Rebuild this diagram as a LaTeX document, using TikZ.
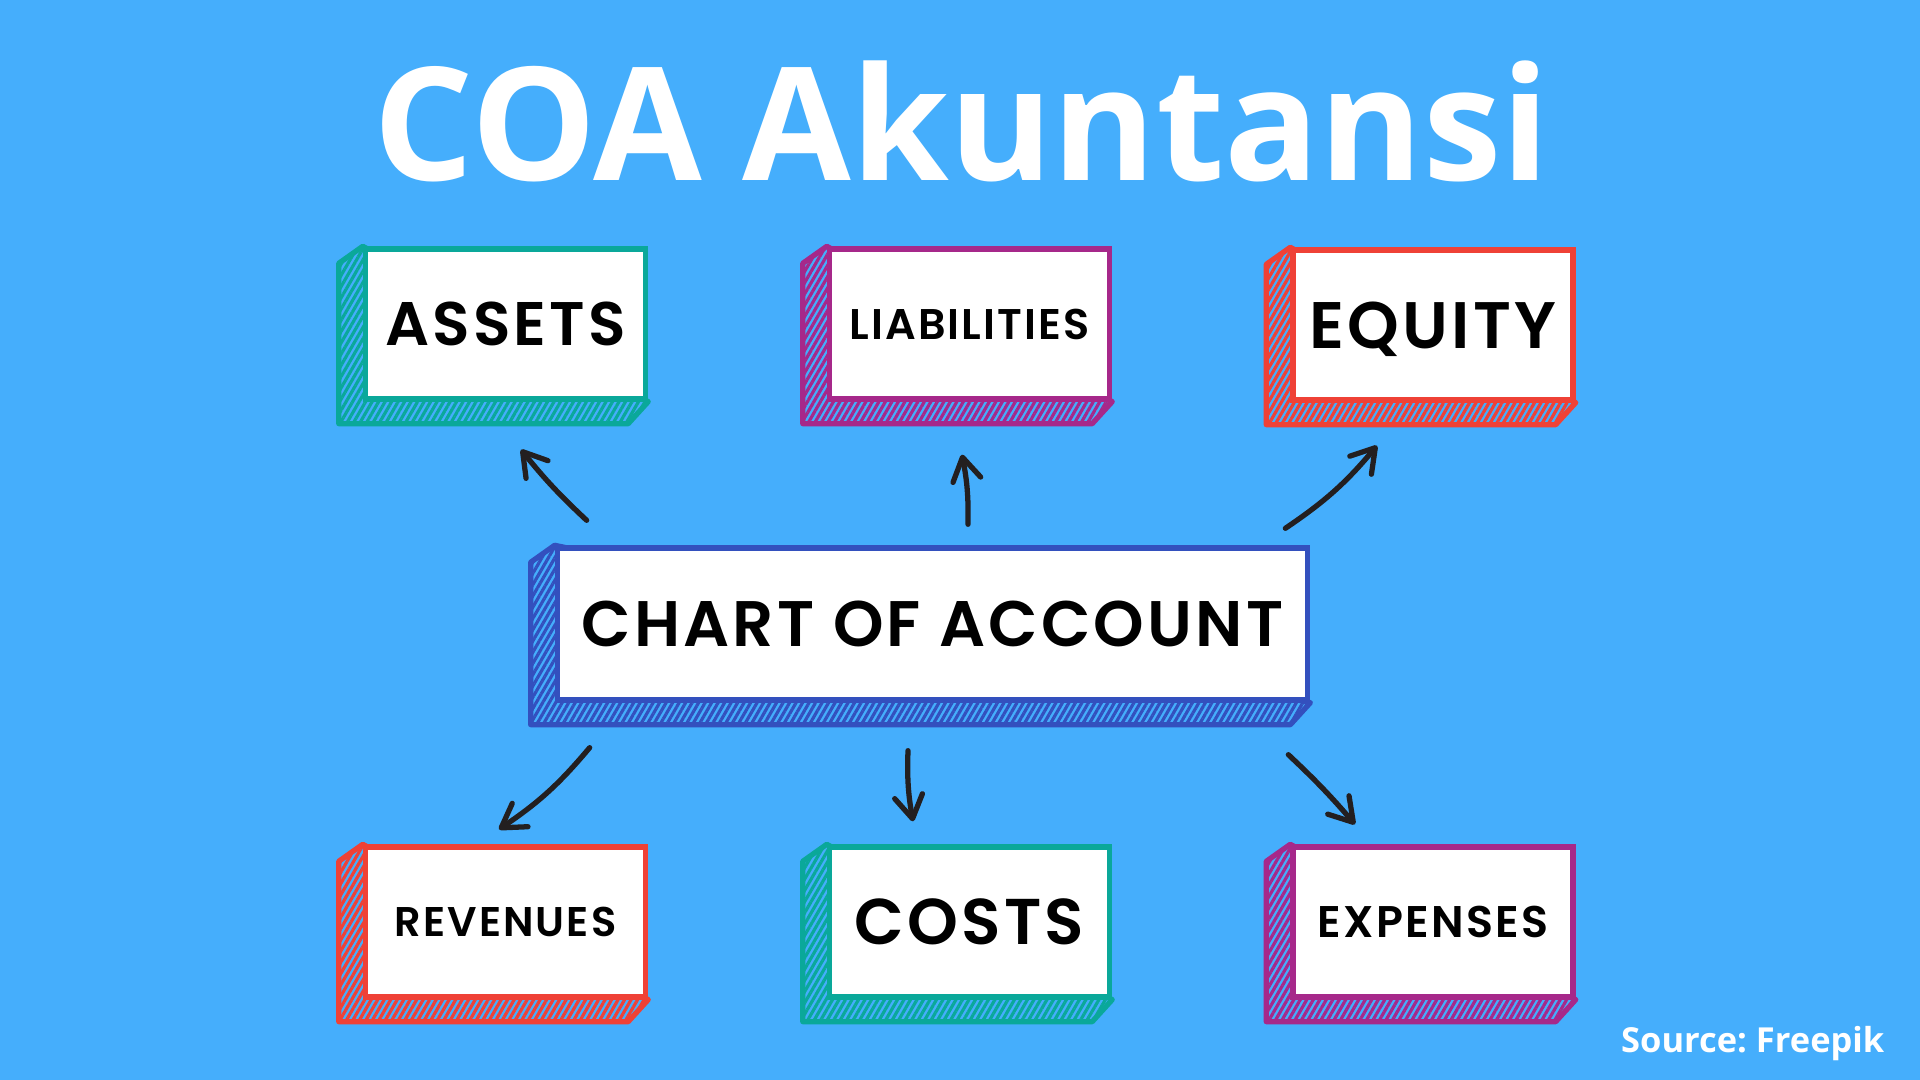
\documentclass[tikz,border=0pt]{standalone}
\usepackage{fontspec}
\setmainfont{Open Sans}
\newfontfamily\lblfont{Poppins SemiBold}[LetterSpace=5]
\usetikzlibrary{arrows.meta, positioning, calc, patterns.meta, backgrounds}
\definecolor{bgblue}{HTML}{45AEFC}
\definecolor{tealc}{HTML}{0AA89A}
\definecolor{redc}{HTML}{EF4136}
\definecolor{purplec}{HTML}{A6288A}
\definecolor{bluec}{HTML}{3350BE}
\definecolor{inkc}{HTML}{231F20}

\begin{document}
\begin{tikzpicture}[x=0.01cm, y=-0.01cm,
        acct/.style={draw=#1, fill=white, line width=1.5pt, minimum width=2.8cm, minimum height=1.5cm,
          inner sep=0pt, text depth=0pt},
        lbl/.style={font=\lblfont\fontsize{#1}{#1}\selectfont},
        hatch/.style={draw=#1, line width=1.5pt, line join=round, pattern color=#1,
          pattern={Lines[angle=60, distance=1.6pt, line width=0.9pt]}},
        arr/.style={draw=inkc, line width=1.5pt, line cap=round,
          -{Straight Barb[length=6.5pt, width=8pt, line cap=round, line join=round]}}
      ]
        \begin{scope}[on background layer]
          \fill[bgblue] (0,0) rectangle (1920,1080);
        \end{scope}
        % title
        \node[anchor=base, text=white, font=\bfseries\fontsize{44.8}{50}\selectfont] (title) at (962,181) {COA Akuntansi};
        % account boxes
        \node[acct=bluec, minimum width=7.5cm, minimum height=1.52cm, lbl=18.3] (coa) at (932.5,624) {CHART OF ACCOUNT};
        \node[acct=tealc, lbl=17.5] (assets) at (505.5,324) {ASSETS};
        \node[acct=purplec, lbl=12.2] (liab) at (969.5,324) {LIABILITIES};
        \node[acct=redc, lbl=18.7] (equity) at (1433,325) {EQUITY};
        \node[acct=redc, lbl=11.8] (rev) at (505.5,922) {REVENUES};
        \node[acct=tealc, lbl=18.4] (costs) at (969.5,922) {COSTS};
        \node[acct=purplec, lbl=12.6] (expenses) at (1433,922) {EXPENSES};
        % hatched sides
        \begin{scope}[on background layer]
          \foreach \n/\c in {assets/tealc, liab/purplec, equity/redc, coa/bluec, rev/redc, costs/tealc, expenses/purplec}
            \filldraw[hatch=\c] (\n.north west) -- ++(-24,17) -- ($(\n.south west)+(-24,22)$)
              -- ($(\n.south east)+(-20,22)$) -- (\n.south east) -- cycle;
        \end{scope}
        % arrows up
        \draw[arr] ($(coa.north west)+(32,-25)$) to[bend left=4] ($(assets.south)+(15.5,48)$);
        \draw[arr] ($(coa.north)+(35.5,-21)$) to[bend right=6] ($(liab.south)+(-7.5,53)$);
        \draw[arr] ($(coa.north east)+(-25,-17)$) to[bend right=8] ($(equity.south)+(-56,43)$);
        % arrows down
        \draw[arr] ($(coa.south west)+(35,45)$) to[bend left=8] ($(rev.north)+(-6.5,-15)$);
        \draw[arr] ($(coa.south)+(-24.5,48)$) to[bend right=6] ($(costs.north)+(-56.5,-23)$);
        \draw[arr] ($(coa.south east)+(-22,52)$) to[bend left=3] ($(expenses.north)+(-78,-20)$);
        % source
        \node[anchor=base east, inner sep=0pt, text=white, font=\bfseries\fontsize{9.8}{11}\selectfont] (src) at (1885,1053) {Source:\ Freepik};
      \end{tikzpicture}
\end{document}
